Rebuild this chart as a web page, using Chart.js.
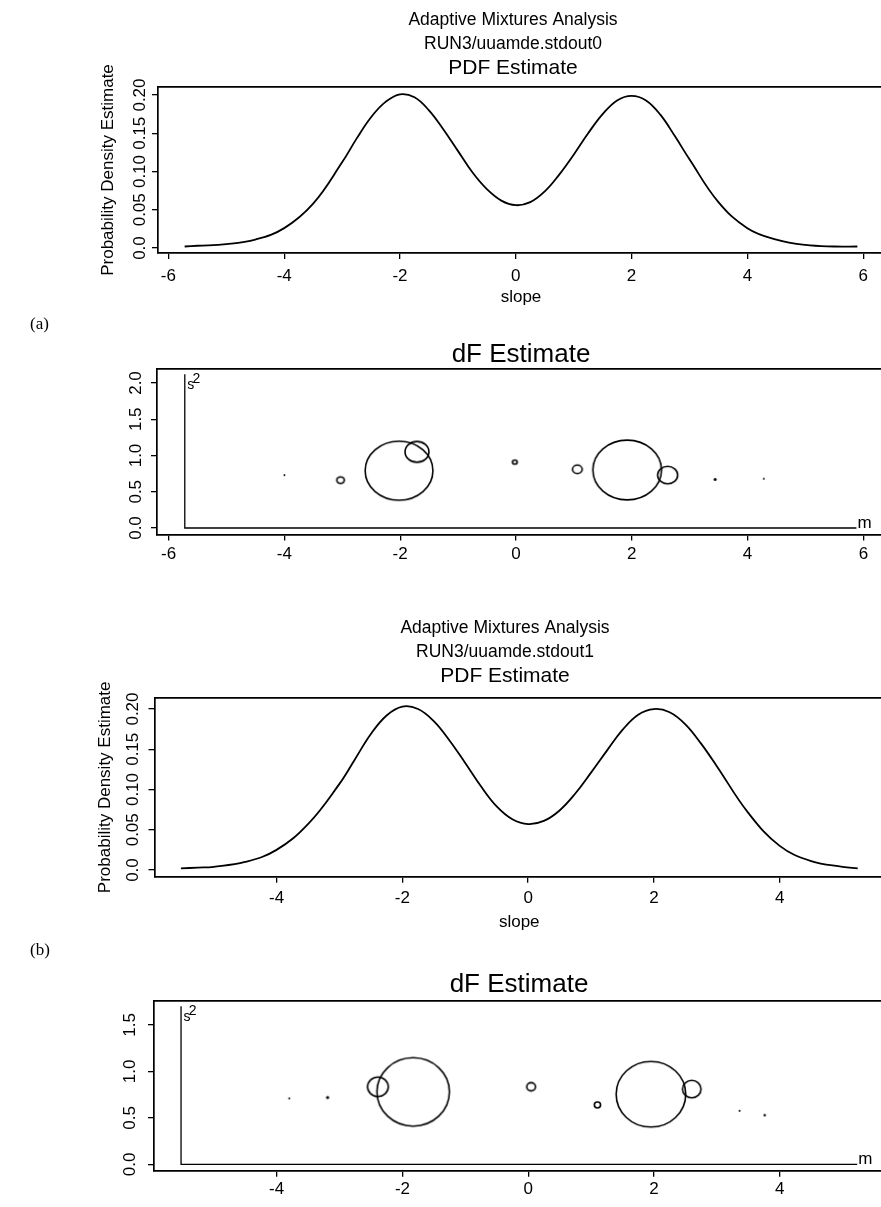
<!DOCTYPE html>
<html>
<head>
<meta charset="utf-8">
<script src="https://cdn.jsdelivr.net/npm/chart.js@4.4.1/dist/chart.umd.min.js"></script>
<style>
  html, body { margin: 0; padding: 0; background: #fff; overflow: hidden; }
  body { width: 881px; height: 1207px; position: relative; }
  canvas { position: absolute; left: 0; }
  .tag { position: absolute; font: 17px "Liberation Serif", "Times New Roman", serif; color: #000; }
</style>
</head>
<body>
<canvas id="pdfA" width="1026" height="310" style="top:0px"></canvas>
<canvas id="dfA" width="1000" height="255" style="top:320px"></canvas>
<canvas id="pdfB" width="1000" height="335" style="top:600px"></canvas>
<canvas id="dfB" width="1000" height="277" style="top:930px"></canvas>
<div class="tag" style="left:30px; top:314px">(a)</div>
<div class="tag" style="left:30px; top:940px">(b)</div>
<script>
// ---- PDF estimates ----
const slopeA = [-5.72, -5.5, -5.0, -4.5, -4.0, -3.5, -3.0, -2.75, -2.5, -2.25, -2.0, -1.75, -1.5, -1.25,
  -1.0, -0.75, -0.5, -0.25, 0.0, 0.25, 0.5, 0.75, 1.0, 1.25, 1.5, 1.75, 2.0, 2.25, 2.5, 2.75, 3.0,
  3.5, 4.0, 4.5, 5.0, 5.5, 5.9];
const pdfA = [0.002, 0.003, 0.005, 0.011, 0.026, 0.058, 0.112, 0.143, 0.171, 0.191, 0.201, 0.197, 0.180, 0.155,
  0.127, 0.099, 0.077, 0.062, 0.056, 0.060, 0.074, 0.096, 0.122, 0.150, 0.175, 0.193, 0.199, 0.193, 0.174, 0.146, 0.116,
  0.060, 0.026, 0.011, 0.004, 0.002, 0.002];

const slopeB = [-5.52, -5.25, -5.0, -4.5, -4.0, -3.5, -3.0, -2.75, -2.5, -2.25, -2.0, -1.75, -1.5, -1.25,
  -1.0, -0.75, -0.5, -0.25, 0.0, 0.25, 0.5, 0.75, 1.0, 1.25, 1.5, 1.75, 2.0, 2.25, 2.5, 2.75, 3.0,
  3.5, 4.0, 4.5, 5.0, 5.24];
const pdfB = [0.002, 0.003, 0.004, 0.010, 0.025, 0.057, 0.107, 0.138, 0.169, 0.192, 0.203, 0.200, 0.185, 0.161,
  0.133, 0.104, 0.079, 0.063, 0.057, 0.061, 0.074, 0.095, 0.121, 0.148, 0.174, 0.193, 0.200, 0.196, 0.181, 0.157, 0.129,
  0.071, 0.030, 0.011, 0.004, 0.002];

// ---- mixture components: mean m, variance s2, weight ----
const mA  = [-4.00, -3.03, -2.02, -1.71, -0.02, 1.06, 1.92, 2.62, 3.44, 4.28];
const s2A = [0.73, 0.66, 0.79, 1.05, 0.91, 0.81, 0.80, 0.73, 0.67, 0.68];
const wA  = [0.0004, 0.0053, 0.433, 0.054, 0.0021, 0.0088, 0.444, 0.038, 0.001, 0.00035];

const mB  = [-3.80, -3.19, -2.39, -1.83, 0.045, 1.10, 1.95, 2.60, 3.36, 3.76];
const s2B = [0.71, 0.72, 0.835, 0.78, 0.835, 0.64, 0.755, 0.81, 0.577, 0.53];
const wB  = [0.0004, 0.001, 0.039, 0.476, 0.0068, 0.0035, 0.439, 0.031, 0.0004, 0.00055];

// extent of the m / s2 axes drawn inside the dF boxes
const mRangeA = [-5.72, 5.88], s2TopA = 2.12;
const mRangeB = [-5.52, 5.23], s2TopB = 1.70;

// ---- ticks ----
const xTicksA = [-6, -4, -2, 0, 2, 4, 6];
const xTicksB = [-4, -2, 0, 2, 4];
const pdfTicks = [0, 0.05, 0.10, 0.15, 0.20];
const pdfTickLabels = ['0.0', '0.05', '0.10', '0.15', '0.20'];
const dfTicksA = [0, 0.5, 1, 1.5, 2];
const dfTickLabelsA = ['0.0', '0.5', '1.0', '1.5', '2.0'];
const dfTicksB = [0, 0.5, 1, 1.5];
const dfTickLabelsB = ['0.0', '0.5', '1.0', '1.5'];

const FONT = '"Liberation Sans", Arial, Helvetica, sans-serif';
Chart.defaults.font.family = FONT;
Chart.defaults.color = '#000';
Chart.defaults.plugins.legend.display = false;
Chart.defaults.plugins.tooltip.enabled = false;

function textWidth(labels, size) {
  const g = document.createElement('canvas').getContext('2d');
  g.font = size + 'px ' + FONT;
  return Math.max(...labels.map(l => g.measureText(l).width));
}

const gridOpts = { display: true, drawOnChartArea: false, drawTicks: true, tickLength: 6, color: '#000', lineWidth: 1.3 };
const borderOpts = { display: true, color: '#000', width: 1.7 };

function xAxis(min, max, ticks, height, pad, title) {
  return {
    type: 'linear', position: 'bottom', min, max,
    afterBuildTicks: s => { s.ticks = ticks.map(v => ({ value: v })); },
    afterFit: s => { s.height = height; },
    ticks: { font: { size: 17 }, padding: pad, maxRotation: 0, autoSkip: false, callback: v => String(v) },
    grid: gridOpts, border: borderOpts,
    title: title ? { display: true, text: title, font: { size: 17 }, padding: { top: 0, bottom: 2 } } : { display: false }
  };
}

// y ticks are written along the axis, centred at labelX
function yAxis(min, max, ticks, labels, chartLeft, width, labelX, title) {
  const pad = chartLeft - 6 - textWidth(labels, 17) / 2 - labelX;
  return {
    type: 'linear', position: 'left', min, max,
    afterBuildTicks: s => { s.ticks = ticks.map(v => ({ value: v })); },
    afterFit: s => { s.width = width; },
    ticks: { font: { size: 17 }, minRotation: 90, maxRotation: 90, crossAlign: 'center', padding: pad,
      autoSkip: false, callback: (v, i) => labels[i] },
    grid: gridOpts, border: borderOpts,
    title: title ? { display: true, text: title, font: { size: 17 }, padding: { top: 8, bottom: 0 } } : { display: false }
  };
}

const topBorder = {
  type: 'linear', position: 'top', display: true,
  afterFit: s => { s.height = 0; },
  ticks: { display: false }, grid: { display: false, drawTicks: false }, border: borderOpts
};

// move the title blocks so their text is centred on a given x
const titleCenter = {
  id: 'titleCenter',
  afterLayout(chart, args, o) {
    chart.boxes.forEach(b => {
      if (!b.axis && b.options && b.options.text !== undefined && b.options.position === 'top') {
        const w = b.right - b.left;
        b.left = o.x - w / 2;
        b.right = b.left + w;
      }
    });
  }
};

function pdfChart(id, xs, ys, cfg) {
  return new Chart(document.getElementById(id), {
    type: 'line',
    data: { datasets: [{
      data: xs.map((x, i) => ({ x, y: ys[i] })),
      borderColor: '#000', borderWidth: 1.8, pointRadius: 0, tension: 0.4, fill: false
    }] },
    options: {
      responsive: false, animation: false, devicePixelRatio: 1,
      layout: { padding: { left: cfg.left, right: cfg.right, top: 0, bottom: 0 } },
      plugins: {
        title: { display: true, text: ['Adaptive Mixtures Analysis', cfg.run],
          font: { size: 17.5, weight: 'normal', lineHeight: '24px' }, padding: { top: cfg.titleTop, bottom: 0 } },
        subtitle: { display: true, text: 'PDF Estimate', color: '#000',
          font: { size: 21, lineHeight: '25px' }, padding: { top: 0, bottom: cfg.subBottom } },
        titleCenter: { x: cfg.titleX }
      },
      scales: {
        x: xAxis(cfg.xmin, cfg.xmax, cfg.xticks, cfg.xh, cfg.xpad, 'slope'),
        y: yAxis(cfg.ymin, cfg.ymax, pdfTicks, pdfTickLabels, cfg.left + cfg.yw, cfg.yw, cfg.labelX, 'Probability Density Estimate'),
        xTop: topBorder
      }
    },
    plugins: [titleCenter]
  });
}

function ellipse(r, aspect) {
  const rx = r * Math.sqrt(aspect), ry = r / Math.sqrt(aspect);
  const c = document.createElement('canvas');
  c.width = Math.ceil(2 * rx + 4); c.height = Math.ceil(2 * ry + 4);
  const g = c.getContext('2d');
  g.beginPath();
  if (r < 2) {
    g.arc(c.width / 2, c.height / 2, Math.max(r, 0.9), 0, 2 * Math.PI);
    g.fillStyle = '#000'; g.fill();
  } else {
    g.ellipse(c.width / 2, c.height / 2, rx, ry, 0, 0, 2 * Math.PI);
    g.lineWidth = 1.6; g.strokeStyle = '#000'; g.stroke();
  }
  return c;
}

const axisLabels = {
  id: 'axisLabels',
  afterDatasetsDraw(chart, args, o) {
    const { ctx, scales: { x, y } } = chart;
    const px = x.getPixelForValue(o.range[0]), py = y.getPixelForValue(o.top);
    const ex = x.getPixelForValue(o.range[1]), ey = y.getPixelForValue(0);
    ctx.save();
    ctx.fillStyle = '#000';
    ctx.font = '14px ' + FONT;
    ctx.textAlign = 'center'; ctx.textBaseline = 'middle';
    ctx.fillText('s', px + 6, py + 11);
    ctx.fillText('2', px + 11.5, py + 5);
    ctx.font = '17px ' + FONT;
    ctx.textAlign = 'left'; ctx.textBaseline = 'alphabetic';
    ctx.fillText('m', ex + 1, ey);
    ctx.restore();
  }
};

function dfChart(id, m, s2, w, range, top, cfg) {
  return new Chart(document.getElementById(id), {
    type: 'bubble',
    data: { datasets: [
      { type: 'line', data: [{ x: range[0], y: top }, { x: range[0], y: 0 }, { x: range[1], y: 0 }],
        borderColor: '#000', borderWidth: 1.3, pointRadius: 0, tension: 0, fill: false },
      { data: m.map((v, i) => ({ x: v, y: s2[i], r: cfg.R * Math.sqrt(w[i]) })),
        pointStyle: c => c.raw ? ellipse(c.raw.r, cfg.aspect) : 'circle' }
    ] },
    options: {
      responsive: false, animation: false, devicePixelRatio: 1,
      layout: { padding: { left: cfg.left, right: cfg.right, top: 0, bottom: 0 } },
      plugins: {
        title: { display: true, text: 'dF Estimate',
          font: { size: 26, weight: 'normal', lineHeight: '28px' }, padding: { top: cfg.titleTop, bottom: cfg.titleBottom } },
        axisLabels: { range, top },
        titleCenter: { x: cfg.titleX }
      },
      scales: {
        x: xAxis(cfg.xmin, cfg.xmax, cfg.xticks, cfg.xh, cfg.xpad, null),
        y: yAxis(cfg.ymin, cfg.ymax, cfg.yticks, cfg.ylabels, cfg.left + cfg.yw, cfg.yw, cfg.labelX, null),
        xTop: topBorder
      }
    },
    plugins: [axisLabels, titleCenter]
  });
}

pdfChart('pdfA', slopeA, pdfA, {
  run: 'RUN3/uuamde.stdout0', left: 90, right: 142, yw: 68, labelX: 140, titleTop: 8, subBottom: 6, titleX: 513,
  xmin: -6.18, xmax: 6.36, xticks: xTicksA, xh: 57, xpad: 7, ymin: -0.0065, ymax: 0.2105
});

dfChart('dfA', mA, s2A, wA, mRangeA, s2TopA, {
  R: 48, aspect: 1.15, left: 100, right: 116, yw: 57, labelX: 136.7, titleTop: 21, titleBottom: 0, titleX: 521,
  xmin: -6.20, xmax: 6.356, xticks: xTicksA, xh: 40.5, xpad: 3.5,
  ymin: -0.0897, ymax: 2.193, yticks: dfTicksA, ylabels: dfTickLabelsA
});

pdfChart('pdfB', slopeB, pdfB, {
  run: 'RUN3/uuamde.stdout1', left: 87, right: 116, yw: 67.5, labelX: 133.3, titleTop: 16, subBottom: 9, titleX: 505,
  xmin: -5.94, xmax: 5.658, xticks: xTicksB, xh: 58.3, xpad: 5.3, ymin: -0.0083, ymax: 0.2137
});

dfChart('dfB', mB, s2B, wB, mRangeB, s2TopB, {
  R: 51, aspect: 1.06, left: 100, right: 116, yw: 54, labelX: 130, titleTop: 41, titleBottom: 1.7, titleX: 519,
  xmin: -5.95, xmax: 5.656, xticks: xTicksB, xh: 29.7, xpad: 2.7,
  ymin: -0.0683, ymax: 1.760, yticks: dfTicksB, ylabels: dfTickLabelsB
});
</script>
</body>
</html>
